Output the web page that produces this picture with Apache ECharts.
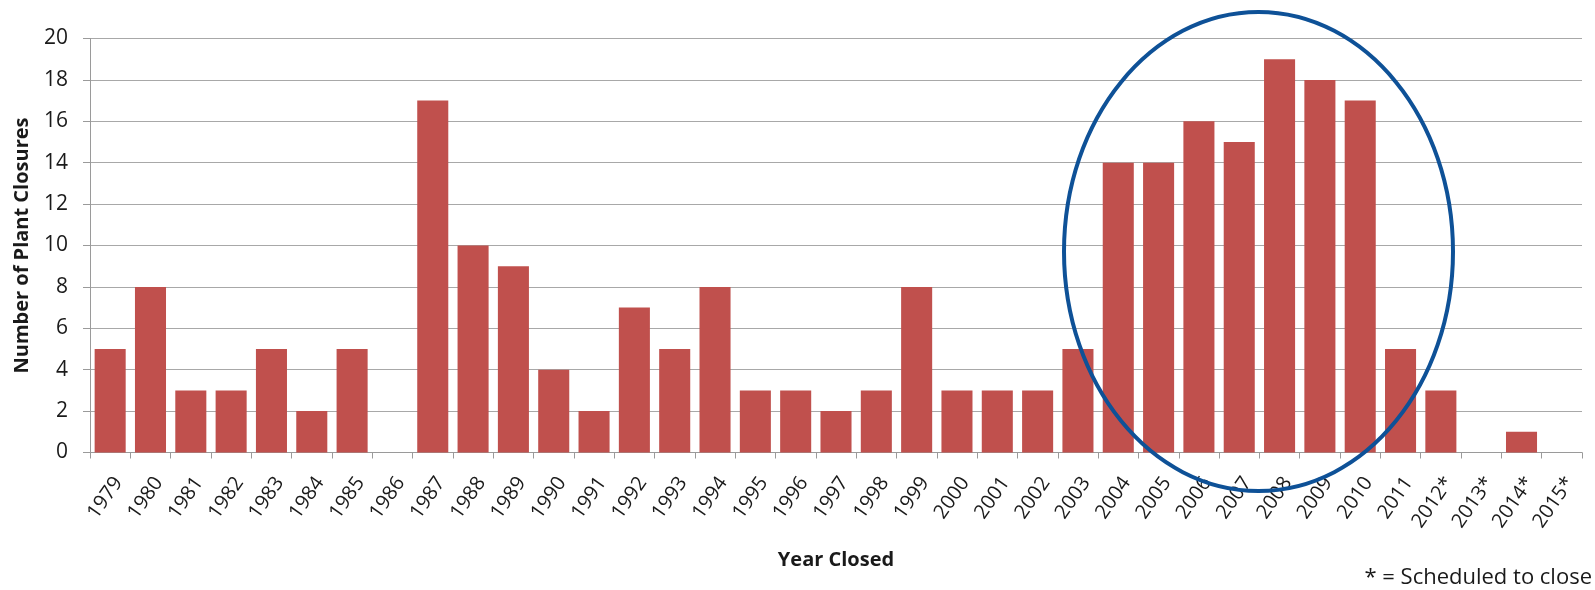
<!DOCTYPE html>
<html>
<head>
<meta charset="utf-8">
<script src="https://cdn.jsdelivr.net/npm/echarts@6/dist/echarts.min.js"></script>
<style>
  html, body { margin: 0; padding: 0; background: #ffffff; }
  #chart { width: 1595px; height: 590px; }
</style>
</head>
<body>
<div id="chart"></div>
<script>
// Plant closures per year (* = scheduled to close)
const years = ['1979','1980','1981','1982','1983','1984','1985','1986','1987','1988',
  '1989','1990','1991','1992','1993','1994','1995','1996','1997','1998','1999','2000',
  '2001','2002','2003','2004','2005','2006','2007','2008','2009','2010','2011',
  '2012*','2013*','2014*','2015*'];
const closures = [5, 8, 3, 3, 5, 2, 5, 0, 17, 10,
  9, 4, 2, 7, 5, 8, 3, 3, 2, 3, 8, 3,
  3, 3, 5, 14, 14, 16, 15, 19, 18, 17, 5,
  3, 0, 1, 0];
const yTicks = [0, 2, 4, 6, 8, 10, 12, 14, 16, 18, 20];

const FONT = '"Open Sans", Lato, sans-serif';
const chart = echarts.init(document.getElementById('chart'), null, { renderer: 'canvas' });

chart.setOption({
  animation: false,
  backgroundColor: '#ffffff',
  grid: { left: 90, right: 13, top: 38.5, bottom: 137.5, containLabel: false },
  xAxis: {
    type: 'category',
    data: years,
    name: 'Year Closed',
    nameLocation: 'middle',
    nameGap: 98,
    nameTextStyle: { fontFamily: FONT, fontSize: 20, fontWeight: 'bold', color: '#1a1a1a' },
    axisLine: { lineStyle: { color: '#9a9a9a', width: 1 } },
    axisTick: { show: true, length: 6, lineStyle: { color: '#9a9a9a' } },
    axisLabel: {
      rotate: 55, margin: 21, align: 'right', verticalAlign: 'top',
      fontFamily: FONT, fontSize: 20, color: '#1a1a1a', interval: 0
    }
  },
  yAxis: {
    type: 'value',
    min: yTicks[0],
    max: yTicks[yTicks.length - 1],
    interval: 2,
    name: 'Number of Plant Closures',
    nameLocation: 'middle',
    nameGap: 58,
    nameTextStyle: { fontFamily: FONT, fontSize: 20, fontWeight: 'bold', color: '#1a1a1a' },
    axisLine: { show: true, lineStyle: { color: '#9a9a9a', width: 1 } },
    axisTick: { show: true, inside: false, length: 7, lineStyle: { color: '#9a9a9a' } },
    splitLine: { lineStyle: { color: '#a8a8a8', width: 1 } },
    axisLabel: { margin: 22, fontFamily: FONT, fontSize: 21, color: '#1a1a1a' }
  },
  series: [{
    type: 'bar',
    data: closures,
    barCategoryGap: '23%',
    itemStyle: { color: '#c0504d' }
  }],
  graphic: [
    {
      // highlight ring around the 2004–2010 peak
      type: 'ellipse',
      shape: { cx: 1258.5, cy: 251.5, rx: 194.5, ry: 239.5 },
      style: { fill: 'none', stroke: '#0e5197', lineWidth: 4 },
      z: 100
    },
    {
      type: 'text',
      right: 3,
      top: 567,
      style: { text: '* = Scheduled to close', font: '22px ' + FONT, fill: '#1a1a1a' }
    }
  ]
});
</script>
</body>
</html>
